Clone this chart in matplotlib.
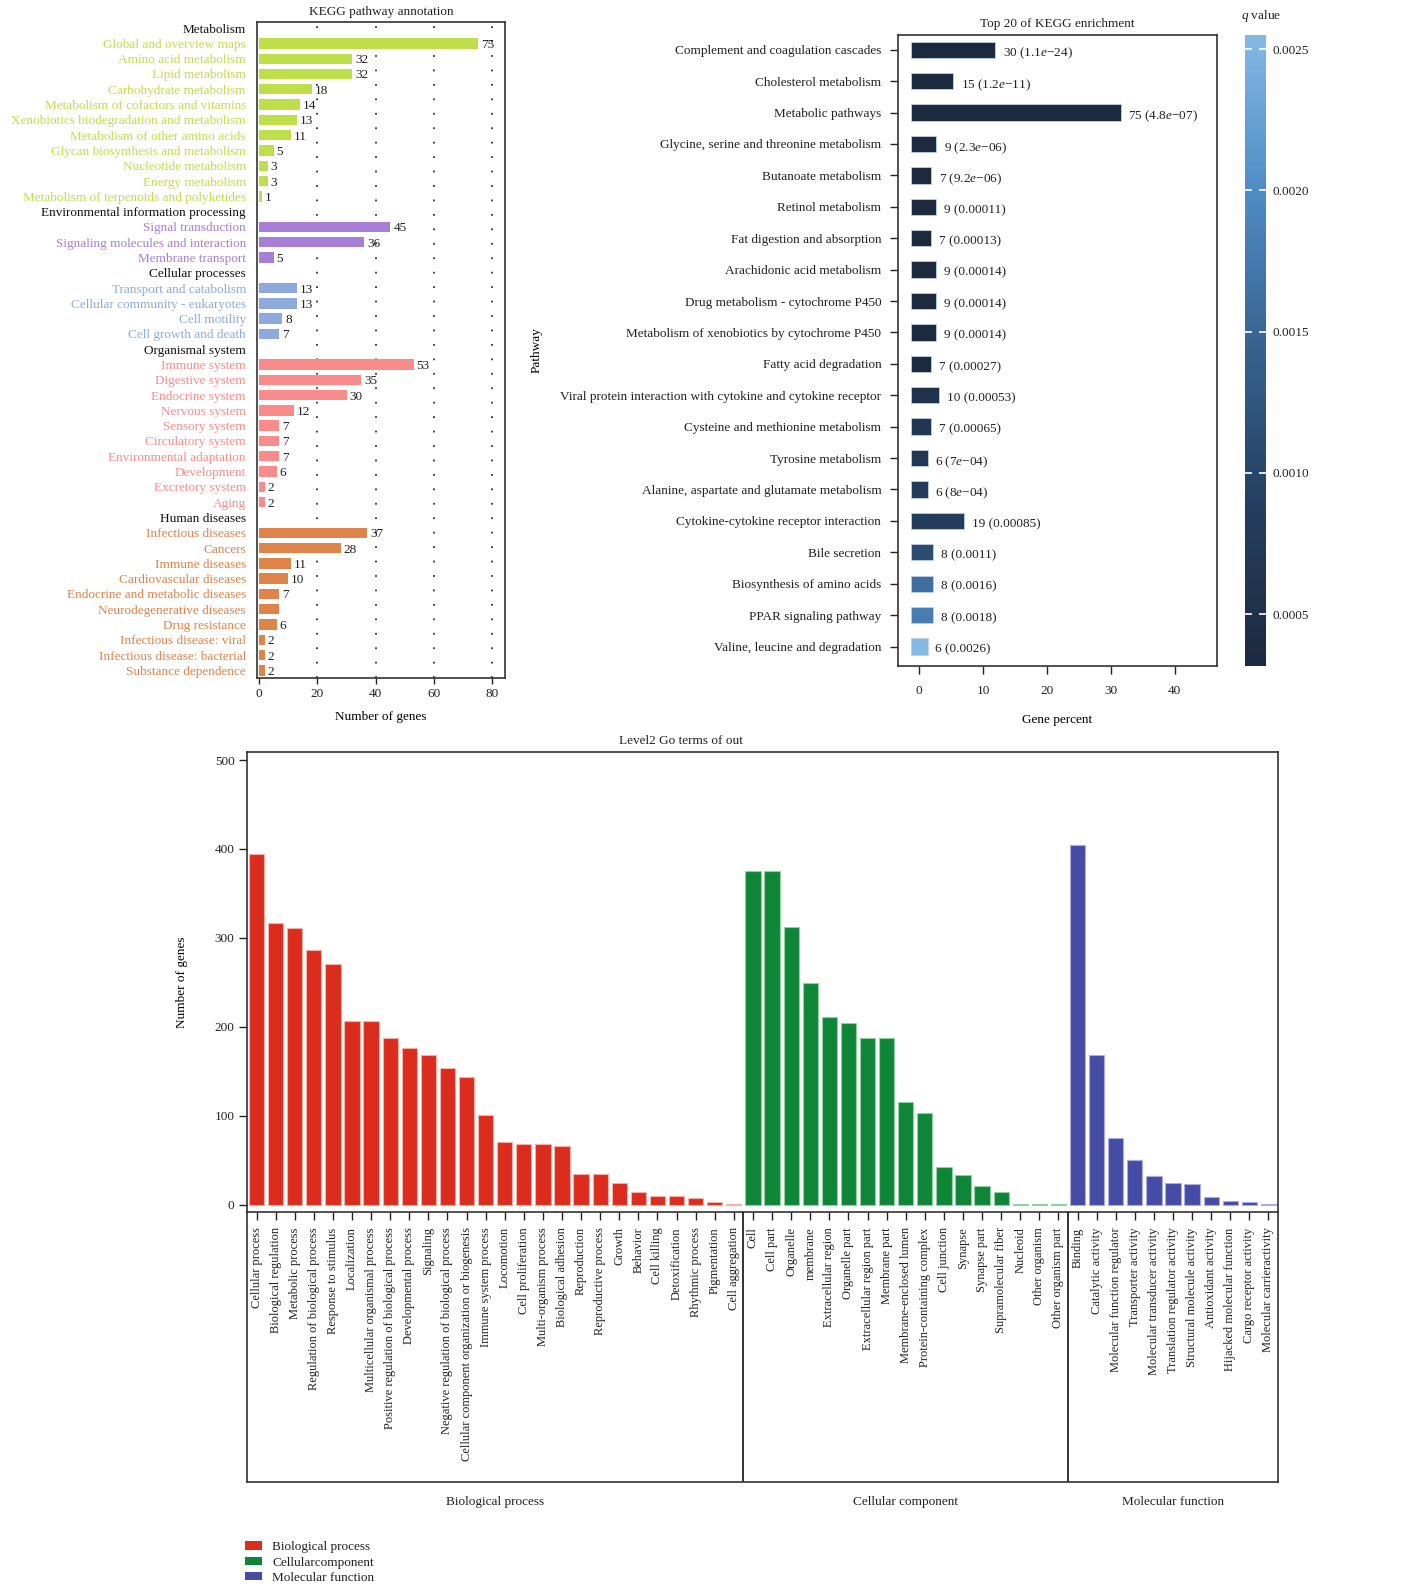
import numpy as np
import matplotlib
matplotlib.use("Agg")
import matplotlib.pyplot as plt
from matplotlib.colors import LinearSegmentedColormap, Normalize
from matplotlib.cm import ScalarMappable
from matplotlib.patches import Patch

plt.rcParams["font.family"] = ["Liberation Serif", "DejaVu Serif"]
plt.rcParams["mathtext.fontset"] = "custom"
plt.rcParams["mathtext.rm"] = "Liberation Serif"
plt.rcParams["mathtext.it"] = "Liberation Serif:italic"
plt.rcParams["text.color"] = "#222222"
plt.rcParams["xtick.color"] = "#222222"
plt.rcParams["ytick.color"] = "#222222"

# ---- KEGG pathway annotation (panel A) ----
kegg_groups = ["Metabolism", "Environmental information processing",
               "Cellular processes", "Organismal system", "Human diseases"]
kegg_colors = ["#BEDF4A", "#A77FD6", "#8EAADC", "#F98B8B", "#DE834A"]
metabolism_terms = ["Global and overview maps", "Amino acid metabolism", "Lipid metabolism",
                    "Carbohydrate metabolism", "Metabolism of cofactors and vitamins",
                    "Xenobiotics biodegradation and metabolism", "Metabolism of other amino acids",
                    "Glycan biosynthesis and metabolism", "Nucleotide metabolism",
                    "Energy metabolism", "Metabolism of terpenoids and polyketides"]
metabolism_counts = [75, 32, 32, 18, 14, 13, 11, 5, 3, 3, 1]
envinfo_terms = ["Signal transduction", "Signaling molecules and interaction", "Membrane transport"]
envinfo_counts = [45, 36, 5]
cellular_terms = ["Transport and catabolism", "Cellular community - eukaryotes",
                  "Cell motility", "Cell growth and death"]
cellular_counts = [13, 13, 8, 7]
organismal_terms = ["Immune system", "Digestive system", "Endocrine system", "Nervous system",
                    "Sensory system", "Circulatory system", "Environmental adaptation",
                    "Development", "Excretory system", "Aging"]
organismal_counts = [53, 35, 30, 12, 7, 7, 7, 6, 2, 2]
disease_terms = ["Infectious diseases", "Cancers", "Immune diseases", "Cardiovascular diseases",
                 "Endocrine and metabolic diseases", "Neurodegenerative diseases",
                 "Drug resistance", "Infectious disease: viral", "Infectious disease: bacterial",
                 "Substance dependence"]
disease_counts = [37, 28, 11, 10, 7, 7, 6, 2, 2, 2]
unlabeled_terms = ["Neurodegenerative diseases"]

# ---- Top 20 of KEGG enrichment (panel B) ----
enrich_terms = ["Complement and coagulation cascades", "Cholesterol metabolism",
                "Metabolic pathways", "Glycine, serine and threonine metabolism",
                "Butanoate metabolism", "Retinol metabolism", "Fat digestion and absorption",
                "Arachidonic acid metabolism", "Drug metabolism - cytochrome P450",
                "Metabolism of xenobiotics by cytochrome P450", "Fatty acid degradation",
                "Viral protein interaction with cytokine and cytokine receptor",
                "Cysteine and methionine metabolism", "Tyrosine metabolism",
                "Alanine, aspartate and glutamate metabolism",
                "Cytokine-cytokine receptor interaction", "Bile secretion",
                "Biosynthesis of amino acids", "PPAR signaling pathway",
                "Valine, leucine and degradation"]
enrich_counts = [30, 15, 75, 9, 7, 9, 7, 9, 9, 9, 7, 10, 7, 6, 6, 19, 8, 8, 8, 6]
enrich_qtext = ["1.1e-24", "1.2e-11", "4.8e-07", "2.3e-06", "9.2e-06", "0.00011", "0.00013",
                "0.00014", "0.00014", "0.00014", "0.00027", "0.00053", "0.00065", "7e-04",
                "8e-04", "0.00085", "0.0011", "0.0016", "0.0018", "0.0026"]
enrich_percent = [13.1, 6.6, 32.8, 3.9, 3.1, 3.9, 3.1, 3.9, 3.9, 3.9, 3.1, 4.4, 3.1, 2.6,
                  2.6, 8.3, 3.5, 3.5, 3.5, 2.6]
q_ticks = [0.0005, 0.0010, 0.0015, 0.0020, 0.0025]

# ---- Level2 GO terms (panel C) ----
bp_terms = ["Cellular process", "Biological regulation", "Metabolic process",
            "Regulation of biological process", "Response to stimulus", "Localization",
            "Multicellular organismal process", "Positive regulation of biological process",
            "Developmental process", "Signaling", "Negative regulation of biological process",
            "Cellular component organization or biogenesis", "Immune system process",
            "Locomotion", "Cell proliferation", "Multi-organism process", "Biological adhesion",
            "Reproduction", "Reproductive process", "Growth", "Behavior", "Cell killing",
            "Detoxification", "Rhythmic process", "Pigmentation", "Cell aggregation"]
bp_counts = [394, 317, 311, 287, 271, 207, 207, 188, 176, 168, 154, 144, 101, 71, 68, 68, 66,
             35, 35, 25, 14, 10, 10, 8, 3, 1]
cc_terms = ["Cell", "Cell part", "Organelle", "membrane", "Extracellular region",
            "Organelle part", "Extracellular region part", "Membrane part",
            "Membrane-enclosed lumen", "Protein-containing complex", "Cell junction", "Synapse",
            "Synapse part", "Supramolecular fiber", "Nucleoid", "Other organism",
            "Other organism part"]
cc_counts = [375, 375, 312, 249, 211, 204, 188, 188, 116, 103, 43, 34, 21, 15, 1, 1, 1]
mf_terms = ["Binding", "Catalytic activity", "Molecular function regulator",
            "Transporter activity", "Molecular transducer activity",
            "Translation regulator activity", "Structural molecule activity",
            "Antioxidant activity", "Hijacked molecular function", "Cargo receptor activity",
            "Molecular carrieractivity"]
mf_counts = [404, 169, 75, 51, 32, 25, 23, 9, 4, 3, 1]
go_names = ["Biological process", "Cellular component", "Molecular function"]
go_legend = ["Biological process", "Cellularcomponent", "Molecular function"]
go_colors = ["#DC2C1E", "#0E8537", "#454CA6"]
go_edges = ["#F7B0A8", "#8FD19E", "#A9ADE0"]

W, H = 1422, 1592
fig = plt.figure(figsize=(W / 100, H / 100), dpi=100)


def box(x0, y0, x1, y1):
    return fig.add_axes([x0 / W, 1 - y1 / H, (x1 - x0) / W, (y1 - y0) / H])


def frame(ax):
    for s in ax.spines.values():
        s.set_linewidth(1.2)
        s.set_color("#333333")


# ================= panel A =================
axA = box(257, 22, 505, 678)
labels, values, colors = [], [], []
for group, terms, counts, col in zip(
        kegg_groups,
        [metabolism_terms, envinfo_terms, cellular_terms, organismal_terms, disease_terms],
        [metabolism_counts, envinfo_counts, cellular_counts, organismal_counts, disease_counts],
        kegg_colors):
    labels.append(group)
    values.append(np.nan)
    colors.append("#111111")
    for t, c in zip(terms, counts):
        labels.append(t)
        values.append(c)
        colors.append(col)
values = np.array(values, dtype=float)
ypos = np.arange(len(labels))
has_bar = ~np.isnan(values)
axA.barh(ypos[has_bar], values[has_bar], height=0.68,
         color=[c for c, h in zip(colors, has_bar) if h], zorder=2)
for y, v, lab in zip(ypos, values, labels):
    if np.isnan(v) or lab in unlabeled_terms:
        continue
    axA.text(v + 1.0, y, f"{int(v)}", va="center_baseline", ha="left", fontsize=9.5, zorder=3)
for v in [20, 40, 60, 80]:
    axA.axvline(v, color="#333333", ls=(0, (1, 7)), lw=1.3, zorder=1)
axA.set_yticks(ypos)
axA.set_yticklabels(labels, fontsize=9.5)
for lbl, c in zip(axA.get_yticklabels(), colors):
    lbl.set_color(c)
axA.tick_params(axis="y", length=0, pad=8)
axA.set_xlim(-0.7, 84.3)
axA.set_ylim(42.5, -0.4)
axA.set_xticks([0, 20, 40, 60, 80])
axA.tick_params(axis="x", labelsize=9.5, length=4, width=1, pad=3)
axA.set_xlabel("Number of genes", fontsize=9.5, labelpad=8)
axA.set_title("KEGG pathway annotation", fontsize=9.5, pad=5)
frame(axA)

# ================= panel B =================
axB = box(898, 35, 1217, 666)
q_values = [float(s) for s in enrich_qtext]
q_norm = Normalize(vmin=0.000317, vmax=0.00255, clip=True)
q_cmap = LinearSegmentedColormap.from_list(
    "qblue", ["#1C2A40", "#243E5E", "#36628F", "#4F8BC4", "#82BAE4"])
yB = np.arange(len(enrich_terms))
bar_left = -1.25
axB.barh(yB, enrich_percent, left=bar_left, height=0.52,
         color=[q_cmap(q_norm(q)) for q in q_values], edgecolor="#BFD0E0", lw=0.6)
for y, p, n, qt in zip(yB, enrich_percent, enrich_counts, enrich_qtext):
    if "e-" in qt:
        a, b = qt.split("e-")
        qs = a + r"$\it{e}$" + "\u2212" + b
    else:
        qs = qt
    axB.text(bar_left + p + 1.2, y + 0.05, f"{n} ({qs})", va="center_baseline", ha="left",
             fontsize=9.5)
axB.set_yticks(yB)
axB.set_yticklabels(enrich_terms, fontsize=9.5)
axB.set_ylim(19.62, -0.47)
axB.set_xlim(-3.3, 46.6)
axB.set_xticks([0, 10, 20, 30, 40])
axB.tick_params(axis="both", labelsize=9.5, length=6, width=1)
axB.tick_params(axis="x", pad=8)
axB.tick_params(axis="y", pad=6)
axB.set_xlabel("Gene percent", fontsize=9.5, labelpad=12)
axB.set_ylabel("Pathway", fontsize=9.5)
axB.yaxis.set_label_coords(-1.113, 0.5)
axB.set_title("Top 20 of KEGG enrichment", fontsize=9.5, pad=6)
frame(axB)

cax = box(1245, 35, 1266, 666)
sm = ScalarMappable(norm=q_norm, cmap=q_cmap)
cb = fig.colorbar(sm, cax=cax, ticks=q_ticks)
cb.outline.set_visible(False)
cb.ax.set_yticklabels([f"{t:.4f}" for t in q_ticks])
cb.ax.tick_params(which="both", left=True, right=True, direction="in", color="white",
                  length=5, width=1.2, labelsize=9.5, pad=5)
cb.ax.minorticks_off()
fig.text(1241 / W, 1 - 16 / H, r"$\it{q}$ value", fontsize=9.5, ha="left", va="center")

# ================= panel C =================
axC = box(247, 752, 1278, 1212)
groups_terms = [bp_terms, cc_terms, mf_terms]
groups_counts = [bp_counts, cc_counts, mf_counts]
all_terms = bp_terms + cc_terms + mf_terms
start = 0
centers = []
for terms, counts, col, ec in zip(groups_terms, groups_counts, go_colors, go_edges):
    xs = np.arange(start, start + len(terms))
    axC.bar(xs, counts, width=0.8, color=col, edgecolor=ec, lw=0.8, zorder=2)
    centers.append((xs[0] + xs[-1]) / 2)
    start += len(terms)
axC.set_xlim(-0.5, len(all_terms) - 0.5)
axC.set_ylim(-8, 509)
axC.set_yticks([0, 100, 200, 300, 400, 500])
axC.set_xticks(np.arange(len(all_terms)))
axC.set_xticklabels(all_terms, rotation=90, fontsize=9, va="top", ha="center")
axC.tick_params(axis="x", length=6, width=1, pad=5)
axC.tick_params(axis="y", length=6, width=1, labelsize=9.5, pad=3)
axC.set_ylabel("Number of genes", fontsize=9.5)
axC.yaxis.set_label_coords(-0.057, 0.5)
frame(axC)
fig.text(681 / W, 1 - 741 / H, "Level2 Go terms of out", fontsize=9.5, ha="center", va="center")

axL = box(247, 1212, 1278, 1482)
axL.set_facecolor("none")
axL.set_xlim(axC.get_xlim())
axL.set_ylim(0, 1)
axL.set_xticks([])
axL.set_yticks([])
axL.spines["top"].set_visible(False)
frame(axL)
bounds = np.cumsum([len(t) for t in groups_terms])[:-1] - 0.5
for b in bounds:
    axL.axvline(b, color="#111111", lw=1.2)
for xc, name in zip(centers, go_names):
    axL.text(xc, -0.074, name, transform=axL.get_xaxis_transform(), ha="center", va="center",
             fontsize=9.5)

handles = [Patch(facecolor=c, edgecolor="none") for c in go_colors]
fig.legend(handles, go_legend, loc="upper left", bbox_to_anchor=(240 / W, 1 - 1536 / H),
           frameon=False, fontsize=9.5, handlelength=1.25, handleheight=0.6,
           labelspacing=0.25, handletextpad=0.8, borderaxespad=0)

fig.savefig("out.png", dpi=100)
